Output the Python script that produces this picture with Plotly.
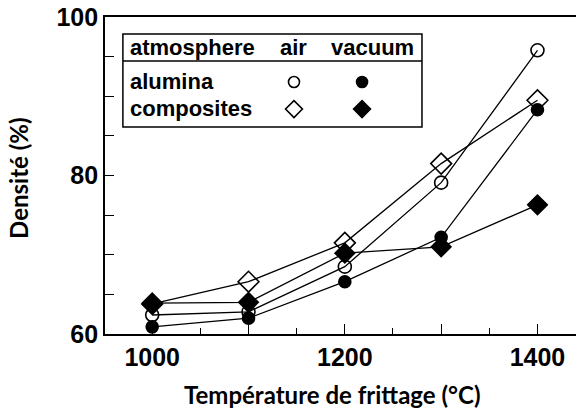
import plotly.graph_objects as go

# ---- data ----
temperature = [1000, 1100, 1200, 1300, 1400]
alumina_air = [62.4, 62.8, 68.5, 79.1, 95.8]
alumina_vacuum = [60.9, 62.0, 66.6, 72.2, 88.3]
composites_air = [63.8, 66.6, 71.5, 81.5, 89.5]
composites_vacuum = [63.9, 64.0, 70.2, 71.0, 76.3]

x_tickvals = [1000, 1100, 1200, 1300, 1400]
x_ticktext = ["1000", "", "1200", "", "1400"]
y_tickvals = [60, 65, 70, 75, 80, 85, 90, 95, 100]
y_ticktext = ["60", "", "", "", "80", "", "", "", "100"]

legend_cols = ["air", "vacuum"]
legend_rows = ["alumina", "composites"]

x_title = "Température de frittage (°C)"
y_title = "Densité (%)"

# ---- figure ----
fig = go.Figure()

LINE = dict(color="black", width=1.3)
series = [
    (alumina_air, "circle-open", 13),
    (alumina_vacuum, "circle", 12),
    (composites_air, "diamond-open", 16),
    (composites_vacuum, "diamond", 15),
]
for vals, sym, sz in series:
    fig.add_trace(go.Scatter(
        x=temperature, y=vals, mode="lines+markers",
        line=LINE,
        marker=dict(symbol=sym, size=sz, color="black",
                    line=dict(color="black", width=1.6)),
        showlegend=False, cliponaxis=False,
    ))

# legend table markers on an inset categorical axis
leg_syms = [["circle-open", "circle"], ["diamond-open", "diamond"]]
leg_sizes = [11, 13]
for ri, row in enumerate(legend_rows):
    for ci, col in enumerate(legend_cols):
        fig.add_trace(go.Scatter(
            x=[col], y=[row], mode="markers", xaxis="x2", yaxis="y2",
            marker=dict(symbol=leg_syms[ri][ci], size=leg_sizes[ri], color="black",
                        line=dict(color="black", width=1.6)),
            showlegend=False, hoverinfo="skip",
        ))

TICKFONT = dict(family="Liberation Sans", size=25, color="black", weight="bold")

fig.update_layout(
    width=576, height=415,
    margin=dict(l=105, r=0, t=17, b=81),
    paper_bgcolor="white", plot_bgcolor="white",
    xaxis=dict(
        range=[951, 1440], showgrid=False, zeroline=False, automargin=False,
        showline=True, linecolor="black", linewidth=1.8, mirror=True,
        ticks="inside", ticklen=10, tickwidth=1.3, tickcolor="black",
        tickvals=x_tickvals, ticktext=x_ticktext, tickfont=TICKFONT,
        minor=dict(ticks="inside", ticklen=6, tickwidth=1.3, tickcolor="black", dtick=50, tick0=1000),
    ),
    yaxis=dict(
        range=[60, 100], showgrid=False, zeroline=False, automargin=False,
        showline=True, linecolor="black", linewidth=1.8,
        ticks="inside", ticklen=9, tickwidth=1.3, tickcolor="black",
        tickvals=y_tickvals, ticktext=y_ticktext, tickfont=TICKFONT,
        ticklabelstandoff=0,
    ),
    xaxis2=dict(domain=[0.329, 0.618], anchor="y2", range=[-0.5, 1.5],
                categoryorder="array", categoryarray=legend_cols,
                visible=False, fixedrange=True, automargin=False),
    yaxis2=dict(domain=[0.667, 0.8375], anchor="x2", range=[1.5, -0.5],
                categoryorder="array", categoryarray=legend_rows,
                visible=False, fixedrange=True, automargin=False),
)

# legend box
fig.add_shape(type="rect", xref="paper", yref="paper",
              x0=0.038, x1=0.673, y0=0.653, y1=0.946,
              line=dict(color="black", width=1.5), fillcolor="rgba(0,0,0,0)")
fig.add_shape(type="line", xref="paper", yref="paper",
              x0=0.038, x1=0.673, y0=0.861, y1=0.861,
              line=dict(color="black", width=1.5))

LEGFONT = dict(family="Liberation Sans", size=22, color="black", weight="bold")
fig.add_annotation(text="atmosphere", xref="paper", yref="paper", x=0.049, y=0.903,
                   xanchor="left", yanchor="middle", showarrow=False, font=LEGFONT)
for col, cx in zip(legend_cols, [0.4, 0.569]):
    fig.add_annotation(text=col, xref="paper", yref="paper", x=cx, y=0.903,
                       xanchor="center", yanchor="middle", showarrow=False, font=LEGFONT)
for row, cy in zip(legend_rows, [0.795, 0.71]):
    fig.add_annotation(text=row, xref="paper", yref="paper", x=0.049, y=cy,
                       xanchor="left", yanchor="middle", showarrow=False, font=LEGFONT)

TITLEFONT = dict(family="Lato", size=24, color="black", weight="bold")
fig.add_annotation(text=x_title, xref="paper", yref="paper", x=0.482, y=-0.192,
                   xanchor="center", yanchor="middle", showarrow=False, font=TITLEFONT)
fig.add_annotation(text=y_title, xref="paper", yref="paper", x=-0.185, y=0.492,
                   xanchor="center", yanchor="middle", textangle=-90,
                   showarrow=False, font=TITLEFONT)

fig.write_html("out.html", config={"displayModeBar": False},
               post_script="document.body.style.margin='0';")
